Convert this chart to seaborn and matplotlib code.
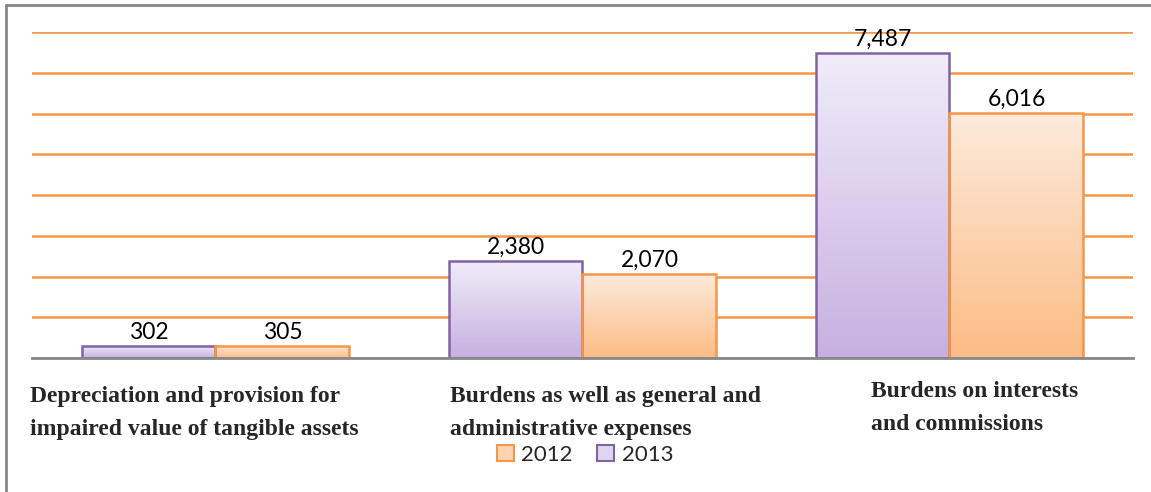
import numpy as np
import pandas as pd
import matplotlib.pyplot as plt
import seaborn as sns
from matplotlib.lines import Line2D
from matplotlib.colors import LinearSegmentedColormap
from matplotlib.patches import Patch

'''DATA'''
categories = ["Depreciation and provision for\nimpaired value of tangible assets",
              "Burdens as well as general and\nadministrative expenses",
              "Burdens on interests\nand commissions"]
years = ["2013", "2012"]
values_2013 = [302, 2380, 7487]
values_2012 = [305, 2070, 6016]

df = pd.DataFrame({
    "category": categories * 2,
    "year": ["2013"] * 3 + ["2012"] * 3,
    "value": values_2013 + values_2012,
})

'''STYLE'''
sns.set_style("white")
plt.rcParams["font.family"] = ["Lato", "DejaVu Sans"]

purple_edge = "#8064a2"
orange_edge = "#f79646"
grid_col = "#f79646"

fig = plt.figure(figsize=(11.51, 4.92), dpi=100)
ax = fig.add_axes([32 / 1151, 1 - 358 / 492, (1133 - 32) / 1151, (358 - 32) / 492])

sns.barplot(data=df, x="category", y="value", hue="year", hue_order=years,
            palette={"2013": "#dccdee", "2012": "#fdd5b2"}, width=0.73, gap=0,
            saturation=1, ax=ax, legend=False, zorder=3)

ax.set_xlim(-0.5, 2.5)
ax.set_ylim(0, 8000)
ax.set_yticks(np.arange(0, 8001, 1000))
ax.yaxis.grid(True, color=grid_col, linewidth=1.8, zorder=0)
ax.set_axisbelow(True)
ax.set_xlabel("")
ax.set_ylabel("")
ax.set_xticklabels([])
ax.set_yticklabels([])
ax.tick_params(length=0)
for s in ["top", "right", "left"]:
    ax.spines[s].set_visible(False)
ax.spines["bottom"].set_color("#888888")
ax.spines["bottom"].set_linewidth(2)
ax.spines["bottom"].set_zorder(5)

'''GRADIENT FILL'''
cmaps = {
    "2013": LinearSegmentedColormap.from_list("p", ["#c6b0e1", "#f1ecf9"]),
    "2012": LinearSegmentedColormap.from_list("o", ["#fcbc86", "#fdebdc"]),
}
edges = {"2013": purple_edge, "2012": orange_edge}
grad = np.linspace(0, 1, 256).reshape(-1, 1)
for cont, yr in zip(ax.containers, years):
    for bar in cont:
        x0, y0 = bar.get_x(), bar.get_y()
        w, h = bar.get_width(), bar.get_height()
        bar.set_edgecolor(edges[yr])
        bar.set_linewidth(1.8)
        bar.set_facecolor("none")
        bar.set_zorder(4)
        im = ax.imshow(grad, cmap=cmaps[yr], aspect="auto", origin="lower",
                       extent=[x0, x0 + w, y0, y0 + h], zorder=3)
        im.set_clip_path(bar)
    ax.bar_label(cont, labels=[f"{v:,.0f}" for v in cont.datavalues],
                 padding=2, fontsize=16.5, color="black", zorder=6)
ax.set_xlim(-0.5, 2.5)
ax.set_ylim(0, 8000)

'''CATEGORY LABELS'''
label_x = [-0.505, 0.64, 1.786]
label_y = [-0.085, -0.085, -0.071]
for cat, lx, ly in zip(categories, label_x, label_y):
    ax.text(lx, ly, cat, transform=ax.get_xaxis_transform(), ha="left", va="top",
            fontsize=17, fontweight="bold", family="Liberation Serif",
            linespacing=1.75)

'''LEGEND'''
handles = [Patch(facecolor="#fdd5b2", edgecolor=orange_edge, linewidth=1.5),
           Patch(facecolor="#e0d5f0", edgecolor=purple_edge, linewidth=1.5)]
fig.legend(handles, ["2012", "2013"], loc="center", bbox_to_anchor=(585 / 1151, 1 - 455 / 492),
           ncol=2, frameon=False, fontsize=16, handlelength=0.75, handleheight=0.75,
           handletextpad=0.35, columnspacing=1.1)

'''FRAME'''
fig.add_artist(Line2D([6 / 1151, 1], [1 - 5 / 492, 1 - 5 / 492], color="#888888", linewidth=2))
fig.add_artist(Line2D([6 / 1151, 6 / 1151], [0, 1 - 5 / 492], color="#888888", linewidth=2))

plt.savefig("out.png", dpi=100)
